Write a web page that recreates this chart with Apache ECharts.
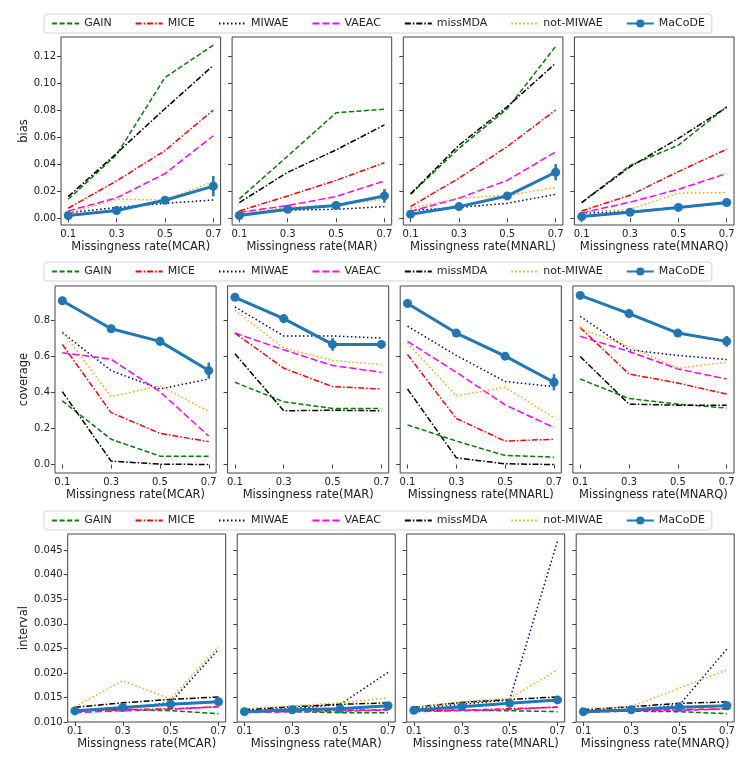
<!DOCTYPE html>
<html>
<head>
<meta charset="utf-8">
<script src="https://cdn.jsdelivr.net/npm/echarts@6/dist/echarts.min.js"></script>
<style>
  html, body { margin: 0; padding: 0; background: #fff; }
  #chart { width: 756px; height: 759px; }
</style>
</head>
<body>
<div id="chart"></div>
<script>
// x positions and labels
const rates = [0.1, 0.3, 0.5, 0.7];
const methods = ['GAIN', 'MICE', 'MIWAE', 'VAEAC', 'missMDA', 'not-MIWAE', 'MaCoDE'];
const mechanisms = ['MCAR', 'MAR', 'MNARL', 'MNARQ'];

// tick labels per row
const biasTicks = [0, 0.02, 0.04, 0.06, 0.08, 0.10, 0.12];
const coverageTicks = [0, 0.2, 0.4, 0.6, 0.8];
const intervalTicks = [0.010, 0.015, 0.020, 0.025, 0.030, 0.035, 0.040, 0.045];

// bias: one inner array per mechanism (MCAR, MAR, MNARL, MNARQ)
const biasGAIN = [[0.014, 0.047, 0.104, 0.128], [0.0143, 0.046, 0.078, 0.0806], [0.0177, 0.0517, 0.081, 0.127], [0.0116, 0.039, 0.054, 0.0825]];
const biasMICE = [[0.0074, 0.0276, 0.050, 0.080], [0.0054, 0.0165, 0.028, 0.041], [0.0086, 0.0296, 0.053, 0.080], [0.0054, 0.017, 0.0345, 0.051]];
const biasMIWAE = [[0.004, 0.008, 0.011, 0.0135], [0.003, 0.006, 0.0066, 0.0086], [0.0057, 0.008, 0.011, 0.0177], [0.0037, 0.005, 0.0079, 0.011]];
const biasVAEAC = [[0.0054, 0.015, 0.033, 0.061], [0.0044, 0.0094, 0.016, 0.0276], [0.005, 0.0148, 0.028, 0.049], [0.004, 0.0118, 0.0214, 0.033]];
const biasMissMDA = [[0.016, 0.048, 0.081, 0.113], [0.0116, 0.034, 0.0505, 0.069], [0.018, 0.054, 0.0825, 0.1146], [0.0116, 0.038, 0.059, 0.082]];
const biasNotMIWAE = [[0.0037, 0.014, 0.0135, 0.027], [0.0037, 0.008, 0.0098, 0.014], [0.0074, 0.0148, 0.017, 0.0227], [0.0047, 0.0066, 0.0185, 0.019]];
const biasMaCoDE = [[0.002, 0.0057, 0.0133, 0.0237], [0.002, 0.0066, 0.0094, 0.0165], [0.003, 0.0086, 0.0165, 0.034], [0.0012, 0.0044, 0.008, 0.0116]];
const biasMaCoDEErr = [[0.0005, 0.0005, 0.0015, 0.0075], [0.0005, 0.001, 0.001, 0.005], [0.0005, 0.001, 0.002, 0.006], [0.0003, 0.0005, 0.0005, 0.001]];

// coverage
const covGAIN = [[0.353, 0.14, 0.0465, 0.0465], [0.456, 0.348, 0.311, 0.311], [0.22, 0.13, 0.05, 0.041], [0.474, 0.366, 0.335, 0.313]];
const covMICE = [[0.666, 0.288, 0.173, 0.127], [0.729, 0.534, 0.432, 0.419], [0.61, 0.255, 0.13, 0.14], [0.759, 0.502, 0.452, 0.391]];
const covMIWAE = [[0.731, 0.521, 0.419, 0.474], [0.874, 0.713, 0.713, 0.701], [0.767, 0.605, 0.46, 0.432], [0.822, 0.636, 0.605, 0.582]];
const covVAEAC = [[0.62, 0.584, 0.404, 0.158], [0.729, 0.636, 0.549, 0.512], [0.683, 0.512, 0.331, 0.205], [0.711, 0.627, 0.53, 0.474]];
const covMissMDA = [[0.404, 0.019, 0.002, 0.0], [0.614, 0.298, 0.301, 0.298], [0.419, 0.037, 0.004, 0.0], [0.599, 0.335, 0.329, 0.329]];
const covNotMIWAE = [[0.739, 0.376, 0.437, 0.294], [0.856, 0.646, 0.577, 0.554], [0.673, 0.381, 0.428, 0.26], [0.753, 0.655, 0.534, 0.567]];
const covMaCoDE = [[0.908, 0.753, 0.683, 0.521], [0.927, 0.809, 0.666, 0.666], [0.893, 0.729, 0.601, 0.456], [0.938, 0.837, 0.729, 0.683]];
const covMaCoDEErr = [[0.01, 0.01, 0.025, 0.045], [0.01, 0.025, 0.035, 0.02], [0.01, 0.02, 0.02, 0.045], [0.01, 0.02, 0.01, 0.03]];

// interval
const intGAIN = [[0.0123, 0.0125, 0.0123, 0.0117], [0.0121, 0.0121, 0.0119, 0.0119], [0.0123, 0.0124, 0.0123, 0.0121], [0.0121, 0.0122, 0.0121, 0.0117]];
const intMICE = [[0.0123, 0.0125, 0.0127, 0.0131], [0.0121, 0.0123, 0.0124, 0.0125], [0.0123, 0.0124, 0.0127, 0.0130], [0.0121, 0.0123, 0.0125, 0.0127]];
const intMIWAE = [[0.0125, 0.0127, 0.0140, 0.0248], [0.0124, 0.0127, 0.0136, 0.0201], [0.0127, 0.0136, 0.0145, 0.0469], [0.0124, 0.0125, 0.0134, 0.0249]];
const intVAEAC = [[0.0119, 0.0123, 0.0126, 0.0131], [0.0119, 0.0121, 0.0122, 0.0124], [0.0121, 0.0123, 0.0125, 0.0131], [0.0119, 0.0123, 0.0124, 0.0126]];
const intMissMDA = [[0.0130, 0.0139, 0.0146, 0.0151], [0.0125, 0.0131, 0.0136, 0.0139], [0.0130, 0.0140, 0.0146, 0.0151], [0.0125, 0.0131, 0.0138, 0.0141]];
const intNotMIWAE = [[0.0131, 0.0184, 0.0147, 0.0254], [0.0127, 0.0133, 0.0139, 0.0149], [0.0130, 0.0141, 0.0148, 0.0206], [0.0127, 0.0131, 0.0169, 0.0206]];
const intMaCoDE = [[0.01226, 0.01295, 0.01364, 0.01412], [0.0121, 0.0125, 0.0127, 0.0133], [0.0124, 0.0131, 0.0138, 0.0145], [0.0121, 0.0125, 0.0130, 0.0133]];
const intMaCoDEErr = [[0.0002, 0.0002, 0.0002, 0.0002], [0.0001, 0.0001, 0.0001, 0.0002], [0.0001, 0.0002, 0.0002, 0.0002], [0.0001, 0.0001, 0.0001, 0.0002]];

const FONT = 'DejaVu Sans';
const MACODE = '#1f77b4';

// line look per method (matplotlib-like)
const lineLook = {
    'GAIN':      { color: '#008000', type: [5, 2.5], width: 1.5 },
    'MICE':      { color: '#ff0000', type: [6, 2, 1.5, 2], width: 1.5 },
    'MIWAE':     { color: '#00008b', type: [1.5, 2.5], width: 1.5 },
    'VAEAC':     { color: '#ff00ff', type: [7, 3], width: 1.5 },
    'missMDA':   { color: '#000000', type: [6, 2, 1.5, 2], width: 1.5 },
    'not-MIWAE': { color: '#ffa500', type: [1.5, 2.5], width: 1.5 },
    'MaCoDE':    { color: MACODE, type: 'solid', width: 3 }
};

const rows = [
    {
        name: 'bias', top: 37, height: 188, lefts: [61, 232.1, 403.3, 574.4], width: 159.6,
        min: -0.005, max: 0.134, ticks: biasTicks, digits: 2, nameGap: 24, legendTop: 14,
        values: [biasGAIN, biasMICE, biasMIWAE, biasVAEAC, biasMissMDA, biasNotMIWAE, biasMaCoDE],
        err: biasMaCoDEErr
    },
    {
        name: 'coverage', top: 286, height: 187, lefts: [55, 227.6, 400.2, 572.9], width: 161.1,
        min: -0.047, max: 0.99, ticks: coverageTicks, digits: 1, nameGap: 20, legendTop: 262,
        values: [covGAIN, covMICE, covMIWAE, covVAEAC, covMissMDA, covNotMIWAE, covMaCoDE],
        err: covMaCoDEErr
    },
    {
        name: 'interval', top: 534, height: 188, lefts: [67.7, 237.2, 406.7, 576.2], width: 158,
        min: 0.010, max: 0.0483, ticks: intervalTicks, digits: 3, nameGap: 31, legendTop: 511,
        values: [intGAIN, intMICE, intMIWAE, intVAEAC, intMissMDA, intNotMIWAE, intMaCoDE],
        err: intMaCoDEErr
    }
];

// legend entries: only MaCoDE keeps its marker
const legendData = methods.map(function (m) {
    return m === 'MaCoDE' ? { name: m } : { name: m, itemStyle: { opacity: 0 } };
});

const grid = [], xAxis = [], yAxis = [], series = [], legend = [];

rows.forEach(function (row, r) {
    legend.push({
        top: row.legendTop, left: 'center',
        data: legendData, selectedMode: false,
        itemWidth: 27, itemHeight: 10, itemGap: 23,
        textStyle: { fontFamily: FONT, fontSize: 11, color: '#222' },
        borderColor: '#d4d4d4', borderWidth: 1, borderRadius: 3,
        padding: [4, 7]
    });

    mechanisms.forEach(function (mech, c) {
        const g = grid.length;
        grid.push({
            left: row.lefts[c], top: row.top, width: row.width, height: row.height,
            show: true, borderColor: '#444', borderWidth: 1, backgroundColor: 'transparent'
        });
        xAxis.push({
            type: 'value', gridIndex: g, min: 0.07, max: 0.73,
            name: 'Missingness rate(' + mech + ')', nameLocation: 'middle', nameGap: 16,
            nameTextStyle: { fontFamily: FONT, fontSize: 11.5, color: '#222' },
            axisLine: { show: false },
            axisTick: { show: true, length: 4, customValues: rates, lineStyle: { color: '#444' } },
            axisLabel: { customValues: rates, margin: 4, fontFamily: FONT, fontSize: 10, color: '#222',
                formatter: function (v) { return v.toFixed(1); } },
            splitLine: { show: false }
        });
        yAxis.push({
            type: 'value', gridIndex: g, min: row.min, max: row.max,
            name: c === 0 ? row.name : '', nameLocation: 'middle', nameGap: row.nameGap,
            nameTextStyle: { fontFamily: FONT, fontSize: 11.5, color: '#222' },
            axisLine: { show: false },
            axisTick: { show: true, length: 4, customValues: row.ticks, lineStyle: { color: '#444' } },
            axisLabel: { show: c === 0, customValues: row.ticks, margin: 5, fontFamily: FONT, fontSize: 10, color: '#222',
                formatter: function (v) { return v.toFixed(row.digits); } },
            splitLine: { show: false }
        });

        methods.forEach(function (m, k) {
            const look = lineLook[m];
            const vals = row.values[k][c];
            const isMain = m === 'MaCoDE';
            series.push({
                type: 'line', name: m, xAxisIndex: g, yAxisIndex: g,
                data: rates.map(function (x, i) { return [x, vals[i]]; }),
                symbol: isMain ? 'circle' : 'none', symbolSize: 9, showSymbol: isMain,
                itemStyle: { color: look.color },
                lineStyle: { color: look.color, width: look.width, type: look.type },
                z: isMain ? 5 : 2, silent: true
            });
        });

        // MaCoDE error bars
        const main = row.values[6][c];
        series.push({
            type: 'custom', xAxisIndex: g, yAxisIndex: g, z: 6, silent: true,
            data: rates.map(function (x, i) { return [x, main[i], row.err[c][i]]; }),
            renderItem: function (params, api) {
                const x = api.value(0), y = api.value(1), e = api.value(2);
                const lo = api.coord([x, y - e]);
                const hi = api.coord([x, y + e]);
                return {
                    type: 'line',
                    shape: { x1: lo[0], y1: lo[1], x2: hi[0], y2: hi[1] },
                    style: { stroke: MACODE, lineWidth: 2.5 }
                };
            }
        });
    });
});

const chart = echarts.init(document.getElementById('chart'));
chart.setOption({
    backgroundColor: '#fff',
    animation: false,
    textStyle: { fontFamily: FONT },
    legend: legend,
    grid: grid,
    xAxis: xAxis,
    yAxis: yAxis,
    series: series
});
</script>
</body>
</html>
